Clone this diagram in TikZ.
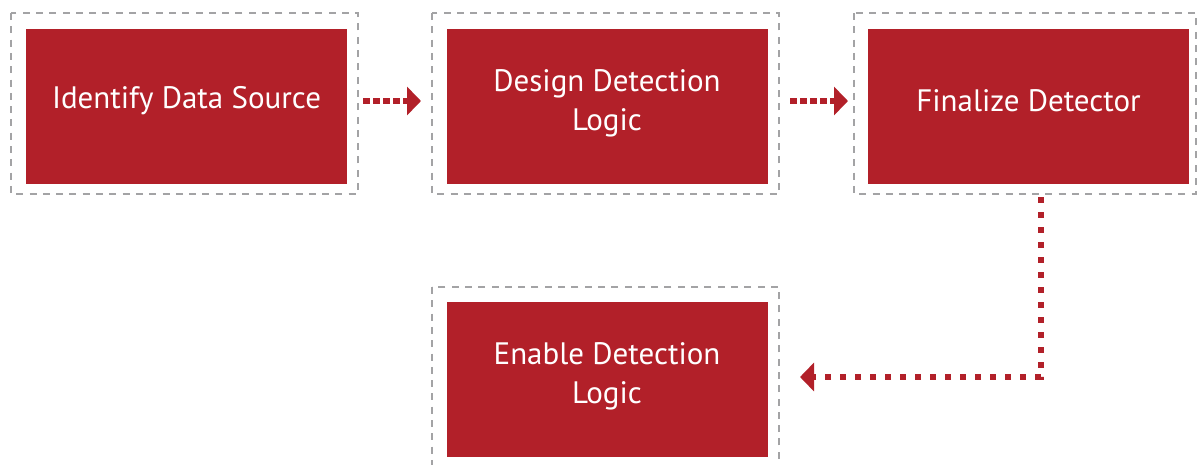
\documentclass[tikz,border=0pt]{standalone}
\usepackage{fontspec}
\setmainfont{PT Sans}
\usetikzlibrary{arrows.meta}
\definecolor{boxred}{HTML}{B22029}
\definecolor{dashgray}{HTML}{A3A3A5}
\tikzset{
  redbox/.style={fill=boxred, draw=none, minimum width=321pt, minimum height=155pt, inner sep=0pt},
  boxtext/.style={text=white, align=center, font=\fontsize{31}{39}\selectfont, inner sep=0pt},
  outerbox/.style={draw=dashgray, line width=2.6pt, dash pattern=on 7pt off 6.3pt, fill=none},
  flowarrow/.style={draw=boxred, line width=5.5pt, dash pattern=on 7pt off 3pt,
    -{Triangle[length=14pt,width=28pt]}},
  dotarrow/.style={draw=boxred, line width=6pt, dash pattern=on 6pt off 9pt,
    -{Triangle[length=14pt,width=28pt]}},
}
\begin{document}
\begin{tikzpicture}[x=1pt,y=-1pt]
\useasboundingbox (0,0) rectangle (1199,464);
% outer dashed frames
\draw[outerbox] (11,13) rectangle (358,194);
\draw[outerbox] (432,13) rectangle (779,194);
\draw[outerbox] (854,13) rectangle (1196,194);
\draw[outerbox] (432,287) rectangle (779,472);
% red boxes
\node[redbox] (identify) at (186.5,106) {};
\node[redbox] (design) at (607,106) {};
\node[redbox] (finalize) at (1028.5,106) {};
\node[redbox] (enable) at (607,379.5) {};
% texts
\node[boxtext] (identifyT) at ([yshift=5pt]identify.center) {Identify Data Source};
\node[boxtext] (designT) at ([yshift=3pt]design.center) {Design Detection\\Logic};
\node[boxtext] (finalizeT) at ([yshift=5pt]finalize.center) {Finalize Detector};
\node[boxtext] (enableT) at ([yshift=3pt]enable.center) {Enable Detection\\Logic};
% connector endpoints
\coordinate (a1s) at (363,101);
\coordinate (a1e) at (421,101);
\coordinate (a2s) at (790,101);
\coordinate (a2e) at (848,101);
\coordinate (a3s) at (1041,197);
\coordinate (a3e) at (800,377);
\draw[flowarrow] (a1s) -- (a1e);
\draw[flowarrow] (a2s) -- (a2e);
\draw[dotarrow] (a3s) |- (a3e);
\end{tikzpicture}
\end{document}
